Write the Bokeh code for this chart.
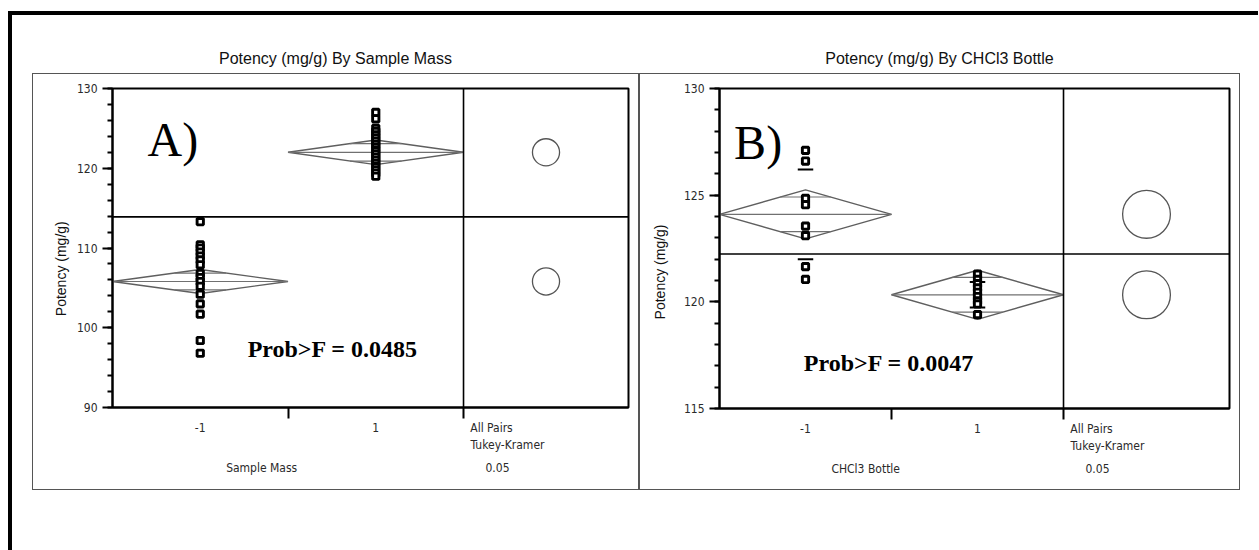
import math
from bokeh.plotting import figure
from bokeh.models import (ColumnDataSource, FixedTicker, SingleIntervalTicker, Range1d,
                          Label, Span, Div, LinearAxis)
from bokeh.layouts import row, column
from bokeh.embed import file_html
from bokeh.resources import INLINE

# ---------------- Panel A data ----------------
A_TITLE = "Potency (mg/g) By Sample Mass"
A_XLABEL = "Sample Mass"
A_YLABEL = "Potency (mg/g)"
A_LETTER = "A)"
A_PROB = "Prob>F = 0.0485"
A_GROUPS = ["-1", "1"]
A_VALUES_NEG = [113.3, 110.4, 110.0, 109.5, 109.0, 108.5, 107.9, 106.8, 106.3, 105.8,
                105.2, 104.2, 103.0, 101.7, 98.4, 96.8]
A_VALUES_POS = [127.0, 126.2, 125.0, 124.6, 124.2, 123.8, 123.4, 123.0, 122.6, 122.2,
                121.8, 121.4, 121.0, 120.6, 120.2, 119.8, 119.4, 119.0]
A_MEANS = [105.8, 122.0]
A_CI = [1.5, 1.55]
A_SD = None
A_GRAND_MEAN = 113.9
A_CIRCLE_R = [1.7, 1.7]
A_YRANGE = (90, 130)
A_YTICK_STEP = 10

# ---------------- Panel B data ----------------
B_TITLE = "Potency (mg/g) By CHCl3 Bottle"
B_XLABEL = "CHCl3 Bottle"
B_YLABEL = "Potency (mg/g)"
B_LETTER = "B)"
B_PROB = "Prob>F = 0.0047"
B_GROUPS = ["-1", "1"]
B_VALUES_NEG = [127.1, 126.6, 124.85, 124.55, 123.55, 123.1, 121.65, 121.05]
B_VALUES_POS = [121.3, 121.05, 120.85, 120.65, 120.45, 120.25, 120.05, 119.9, 119.4]
B_MEANS = [124.1, 120.33]
B_CI = [1.15, 1.15]
B_SD = [2.1, 0.6]
B_GRAND_MEAN = 122.24
B_CIRCLE_R = [1.12, 1.12]
B_YRANGE = (115, 130)
B_YTICK_STEP = 5

CMP_TEXT = ["All Pairs", "Tukey-Kramer", "0.05"]

NARROW = "DejaVu Sans Condensed, Roboto, sans-serif"
SANS = "Liberation Sans"
SERIF = "Liberation Serif"
TICK_COLOR = "#2a2a2a"


def bare_axis(ax, ticks, labels, standoff, font=NARROW, size="12px", color=TICK_COLOR):
    ax.ticker = FixedTicker(ticks=ticks)
    ax.major_label_overrides = dict(zip(ticks, labels))
    ax.axis_line_color = None
    ax.major_tick_line_color = None
    ax.minor_tick_line_color = None
    ax.major_tick_out = 0
    ax.major_tick_in = 0
    ax.minor_tick_out = 0
    ax.minor_tick_in = 0
    ax.major_label_standoff = standoff
    ax.major_label_text_font = font
    ax.major_label_text_font_size = size
    ax.major_label_text_color = color


def build_panel(title, xlabel, ylabel, letter, prob, groups, vneg, vpos, means, ci, sd,
                grand, circ_r, yr, ystep, fig_w, fig_h, b_left, b_right, b_top, b_bottom,
                cmp_w, letter_xy, prob_xy, ylab_standoff, ylab_center):
    plot_w = fig_w - b_left - b_right
    xmax = 2 + cmp_w
    ppx = plot_w / xmax

    p = figure(width=fig_w, height=fig_h, x_range=Range1d(0, xmax), y_range=Range1d(*yr),
               output_backend="svg", toolbar_location=None,
               min_border_left=b_left, min_border_right=b_right,
               min_border_top=b_top, min_border_bottom=b_bottom)
    p.grid.visible = False
    p.outline_line_color = "black"
    p.outline_line_width = 2
    p.background_fill_color = "white"
    p.border_fill_color = "white"

    # x axis (main): group labels + "All Pairs"
    x_cmp = 2 + (11 + 17) / ppx
    xa = p.xaxis[0]
    xa.ticker = FixedTicker(ticks=[0.5, 1.5, x_cmp], minor_ticks=[1.0, 2.0])
    xa.major_label_overrides = {0.5: groups[0], 1.5: groups[1], x_cmp: CMP_TEXT[0]}
    xa.major_tick_out = 0
    xa.major_tick_in = 0
    xa.minor_tick_out = 11
    xa.minor_tick_in = 0
    xa.minor_tick_line_width = 2
    xa.axis_line_width = 2
    xa.major_label_standoff = 2
    xa.major_label_text_font = NARROW
    xa.major_label_text_font_size = "12px"
    xa.major_label_text_color = TICK_COLOR

    # second row of text below axis
    x_tk = 2 + (11 + 33) / ppx
    ax2 = LinearAxis()
    bare_axis(ax2, [x_tk], [CMP_TEXT[1]], 0)
    p.add_layout(ax2, "below")
    # third row: axis title and alpha level
    x_al = 2 + (24 + 10) / ppx
    ax3 = LinearAxis()
    bare_axis(ax3, [0.85, x_al], [xlabel, CMP_TEXT[2]], 6)
    p.add_layout(ax3, "below")

    # y axis
    ya = p.yaxis[0]
    ya.ticker = SingleIntervalTicker(interval=ystep, num_minor_ticks=5)
    ya.major_tick_out = 10
    ya.major_tick_in = 0
    ya.minor_tick_out = 5
    ya.minor_tick_in = 0
    ya.major_tick_line_width = 2
    ya.minor_tick_line_width = 2
    ya.axis_line_width = 2
    ya.major_label_standoff = 5
    ya.major_label_text_font = NARROW
    ya.major_label_text_font_size = "12px"
    ya.major_label_text_color = TICK_COLOR

    # y axis title, set on its own axis at the height the original uses
    ay2 = LinearAxis()
    bare_axis(ay2, [ylab_center], [ylabel], ylab_standoff, font=SANS, size="14px",
              color="#111111")
    ay2.major_label_orientation = "vertical"
    p.add_layout(ay2, "left")

    # divider and grand mean
    p.add_layout(Span(location=2.0, dimension="height", line_color="black", line_width=1.6))
    p.add_layout(Span(location=grand, dimension="width", line_color="black", line_width=1.6))

    centers = [0.5, 1.5]
    half = 0.5
    # means diamonds
    dxs, dys = [], []
    seg = dict(x0=[], x1=[], y0=[], y1=[])
    k = 1 - 1 / math.sqrt(2)
    for c, m, e in zip(centers, means, ci):
        dxs.append([c - half, c, c + half, c])
        dys.append([m, m + e, m, m - e])
        seg["x0"] += [c - half, c - half * k, c - half * k]
        seg["x1"] += [c + half, c + half * k, c + half * k]
        d = e / math.sqrt(2)
        seg["y0"] += [m, m + d, m - d]
        seg["y1"] += [m, m + d, m - d]
    p.patches(dxs, dys, fill_color=None, line_color="#5f5f5f", line_width=1.4)
    p.segment("x0", "y0", "x1", "y1", source=ColumnDataSource(seg),
              line_color="#707070", line_width=1.2)

    # std dev lines
    if sd is not None:
        sseg = dict(x0=[], x1=[], y0=[], y1=[])
        for c, m, s in zip(centers, means, sd):
            for yy in (m + s, m - s):
                sseg["x0"].append(c - 0.045)
                sseg["x1"].append(c + 0.045)
                sseg["y0"].append(yy)
                sseg["y1"].append(yy)
        p.segment("x0", "y0", "x1", "y1", source=ColumnDataSource(sseg),
                  line_color="black", line_width=2)

    # points
    px = [centers[0]] * len(vneg) + [centers[1]] * len(vpos)
    py = list(vneg) + list(vpos)
    p.scatter(px, py, marker="square", size=6.3, line_width=2.9,
              line_color="black", fill_color="white")

    # comparison circles
    cx = 2 + cmp_w / 2
    p.circle([cx, cx], means, radius=circ_r, radius_dimension="y",
             fill_color=None, line_color="#555555", line_width=1.3)

    # texts inside the frame
    p.add_layout(Label(x=letter_xy[0], y=letter_xy[1], text=letter, text_font=SERIF,
                       text_font_size="48px", text_baseline="middle", text_align="left",
                       text_color="black"))
    p.add_layout(Label(x=prob_xy[0], y=prob_xy[1], text=prob, text_font=SERIF,
                       text_font_size="24px", text_font_style="bold",
                       text_baseline="middle", text_align="left", text_color="black"))

    head = Div(text=f'<div style="width:{fig_w + 2}px;padding-top:35px;line-height:18px;'
                    f'text-align:center;font-family:{SANS};font-size:16px;color:#111">'
                    f'{title}</div>',
               width=fig_w + 2, height=58, margin=0)
    box = column(p, styles={"border": "1px solid #555555"}, margin=0)
    return column(head, box, spacing=0, margin=0)


left = build_panel(A_TITLE, A_XLABEL, A_YLABEL, A_LETTER, A_PROB, A_GROUPS,
                   A_VALUES_NEG, A_VALUES_POS, A_MEANS, A_CI, A_SD, A_GRAND_MEAN,
                   A_CIRCLE_R, A_YRANGE, A_YTICK_STEP,
                   fig_w=605, fig_h=415, b_left=79, b_right=10, b_top=14, b_bottom=82,
                   cmp_w=0.94, letter_xy=(0.2, 123.6), prob_xy=(0.77, 97.3),
                   ylab_standoff=4, ylab_center=107.4)
right = build_panel(B_TITLE, B_XLABEL, B_YLABEL, B_LETTER, B_PROB, B_GROUPS,
                    B_VALUES_NEG, B_VALUES_POS, B_MEANS, B_CI, B_SD, B_GRAND_MEAN,
                    B_CIRCLE_R, B_YRANGE, B_YTICK_STEP,
                    fig_w=599, fig_h=415, b_left=79, b_right=10, b_top=14, b_bottom=81,
                    cmp_w=0.965, letter_xy=(0.085, 127.45), prob_xy=(0.49, 117.15),
                    ylab_standoff=12, ylab_center=121.4)

root = row(left, right, spacing=0,
           styles={"border-top": "4px solid black", "border-left": "4px solid black",
                   "margin-top": "11px", "margin-left": "8px", "padding-left": "20px",
                   "padding-right": "18px", "padding-bottom": "70px",
                   "background": "white"})

open("out.html", "w").write(file_html(root, INLINE))
